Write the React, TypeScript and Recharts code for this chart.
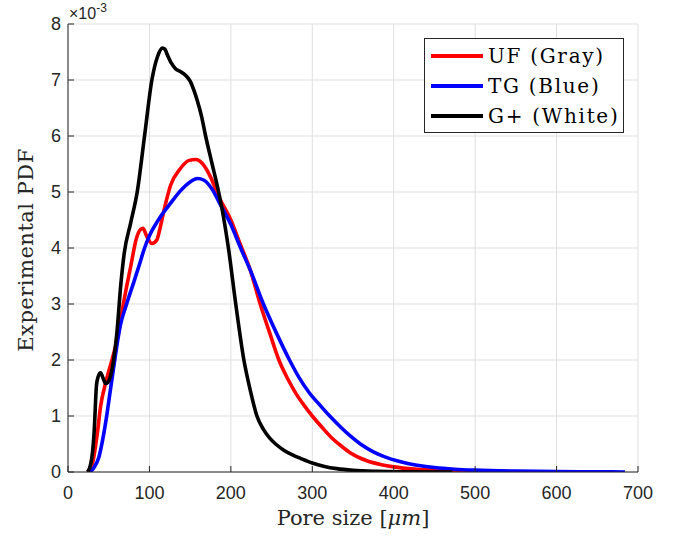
import React from 'react';
import { LineChart, Line, XAxis, YAxis, CartesianGrid, Legend } from 'recharts';

// Series names and colours
const seriesNames = ['UF (Gray)', 'TG (Blue)', 'G+ (White)'];
const seriesColors = ['#ff0000', '#0000ff', '#000000'];

// Axis ticks
const xTicks = [0, 100, 200, 300, 400, 500, 600, 700];
const yTicks = [0, 1, 2, 3, 4, 5, 6, 7, 8];

// UF (Gray) — pore size [um] and PDF (x 10^-3)
const ufX = [24, 30, 36, 40, 46, 50, 54, 62, 68, 77, 84, 89, 92, 97, 103, 109, 113, 118, 126, 138, 148, 157, 165, 175, 185, 200, 212, 224, 236, 248, 259, 270, 280, 290, 300, 313, 326, 336, 347, 367, 385, 400, 425, 450, 500, 550, 600, 630];
const ufY = [0, 0.15, 0.69, 1.17, 1.58, 1.8, 2.0, 2.48, 3.0, 3.67, 4.17, 4.33, 4.35, 4.2, 4.08, 4.14, 4.35, 4.68, 5.12, 5.42, 5.56, 5.58, 5.51, 5.27, 4.92, 4.5, 4.05, 3.6, 3.0, 2.47, 2.0, 1.66, 1.4, 1.19, 1.0, 0.78, 0.58, 0.46, 0.34, 0.2, 0.13, 0.092, 0.052, 0.032, 0.013, 0.005, 0.002, 0.001];

// TG (Blue)
const tgX = [27, 32, 38, 44, 48, 52, 58, 64, 72, 81, 88, 94, 101, 110, 118, 126, 138, 150, 159, 167, 177, 187, 200, 212, 224, 240, 256, 272, 284, 296, 309, 322, 335, 347, 360, 375, 390, 405, 420, 435, 450, 475, 500, 550, 600, 650, 684];
const tgY = [0, 0.08, 0.27, 0.69, 1.05, 1.46, 2.06, 2.6, 3.0, 3.4, 3.72, 4.0, 4.25, 4.48, 4.65, 4.8, 5.02, 5.18, 5.24, 5.21, 5.05, 4.78, 4.42, 4.0, 3.6, 3.0, 2.48, 2.0, 1.68, 1.42, 1.2, 0.99, 0.8, 0.64, 0.49, 0.36, 0.265, 0.195, 0.143, 0.106, 0.079, 0.05, 0.033, 0.015, 0.006, 0.002, 0.001];

// G+ (White)
const gpX = [24, 28, 30, 32, 35, 37, 40, 43, 46, 49, 52, 56, 60, 65, 69, 77, 85, 94, 103, 110, 116, 119, 122, 127, 132, 138, 144, 150, 155, 159, 164, 169, 177, 185, 191, 197, 206, 216, 224, 232, 240, 248, 255, 265, 275, 286, 300, 315, 330, 350, 380, 420, 472];
const gpY = [0, 0.15, 0.34, 0.69, 1.55, 1.7, 1.77, 1.68, 1.58, 1.6, 1.7, 2.0, 2.48, 3.37, 3.9, 4.45, 5.0, 6.0, 7.0, 7.42, 7.57, 7.55, 7.45, 7.3, 7.2, 7.15, 7.09, 6.98, 6.8, 6.62, 6.35, 6.0, 5.5, 5.0, 4.55, 4.0, 3.0, 2.0, 1.45, 1.0, 0.76, 0.6, 0.5, 0.39, 0.31, 0.24, 0.16, 0.1, 0.06, 0.03, 0.012, 0.004, 0];

const zip = (xs: number[], ys: number[]) => xs.map((x, i) => ({ x, y: ys[i] }));
const seriesData = [zip(ufX, ufY), zip(tgX, tgY), zip(gpX, gpY)];

const W = 681;
const H = 537;
const axisColor = '#262626';
const gridColor = '#dfdfdf';
const sans = '"Liberation Sans", Arial, Helvetica, sans-serif';
const serif = '"DejaVu Serif", "Liberation Serif", "Noto Serif", serif';

const renderLegend = (props: any) => {
  const payload = [...(props.payload || [])].sort(
    (a: any, b: any) => seriesNames.indexOf(a.value) - seriesNames.indexOf(b.value)
  );
  return (
    <div
      style={{
        position: 'relative',
        width: 198,
        height: 93,
        border: '1px solid ' + axisColor,
        background: '#fff',
        fontFamily: serif,
        fontSize: 20,
        color: '#000',
      }}
    >
      {payload.map((e: any, i: number) => (
        <div
          key={i}
          style={{
            position: 'absolute',
            left: 6,
            top: 2 + 30 * i,
            height: 30,
            display: 'flex',
            alignItems: 'center',
            whiteSpace: 'nowrap',
          }}
        >
          <div style={{ width: 52, height: 4, background: e.color }} />
          <span style={{ marginLeft: 5, letterSpacing: 1.7 }}>{e.value}</span>
        </div>
      ))}
    </div>
  );
};

export default function App() {
  return (
    <div style={{ position: 'absolute', left: 0, top: 0, width: W, height: H, background: '#fff' }}>
      <LineChart
        width={W}
        height={H}
        margin={{ top: 24, right: 43, bottom: 35, left: 18 }}
      >
        <CartesianGrid stroke={gridColor} strokeWidth={1} />
        <XAxis
          xAxisId={0}
          dataKey="x"
          type="number"
          domain={[0, 700]}
          ticks={xTicks}
          interval={0}
          allowDataOverflow
          height={30}
          stroke={axisColor}
          tickSize={-6}
          tickMargin={20}
          tick={{ fill: axisColor, fontSize: 18, fontFamily: sans }}
        />
        <XAxis
          xAxisId="top"
          orientation="top"
          dataKey="x"
          type="number"
          domain={[0, 700]}
          ticks={xTicks}
          interval={0}
          allowDataOverflow
          height={0}
          stroke={axisColor}
          tickSize={-6}
          tickFormatter={() => ''}
        />
        <YAxis
          yAxisId={0}
          type="number"
          domain={[0, 8]}
          ticks={yTicks}
          interval={0}
          allowDataOverflow
          width={50}
          stroke={axisColor}
          tickSize={-6}
          tickMargin={13}
          tick={{ fill: axisColor, fontSize: 18, fontFamily: sans }}
        />
        <YAxis
          yAxisId="right"
          orientation="right"
          type="number"
          domain={[0, 8]}
          ticks={yTicks}
          interval={0}
          allowDataOverflow
          width={0}
          stroke={axisColor}
          tickSize={-6}
          tickFormatter={() => ''}
        />
        {seriesData.map((d, i) => (
          <Line
            key={seriesNames[i]}
            data={d}
            dataKey="y"
            name={seriesNames[i]}
            type="monotone"
            stroke={seriesColors[i]}
            strokeWidth={3.6}
            dot={false}
            activeDot={false}
            isAnimationActive={false}
            xAxisId={0}
            yAxisId={0}
          />
        ))}
        <Legend
          layout="vertical"
          align="center"
          verticalAlign="middle"
          content={renderLegend}
          wrapperStyle={{ position: 'absolute', left: 424, top: 38, width: 200, height: 95, margin: 0, padding: 0 }}
        />
      </LineChart>
      <svg
        width={W}
        height={H}
        style={{ position: 'absolute', left: 0, top: 0, pointerEvents: 'none' }}
      >
        <text x={69} y={19} fontFamily={sans} fontSize={16} fill={axisColor}>
          ×10
          <tspan fontSize={12} dy={-7}>-3</tspan>
        </text>
        <text
          x={353}
          y={525}
          textAnchor="middle"
          fontFamily={serif}
          fontSize={21}
          fill={axisColor}
        >
          Pore size [<tspan fontStyle="italic">μm</tspan>]
        </text>
        <text
          transform="translate(33,250) rotate(-90)"
          textAnchor="middle"
          fontFamily={serif}
          fontSize={21}
          fill={axisColor}
          letterSpacing={0.5}
        >
          Experimental PDF
        </text>
      </svg>
    </div>
  );
}
